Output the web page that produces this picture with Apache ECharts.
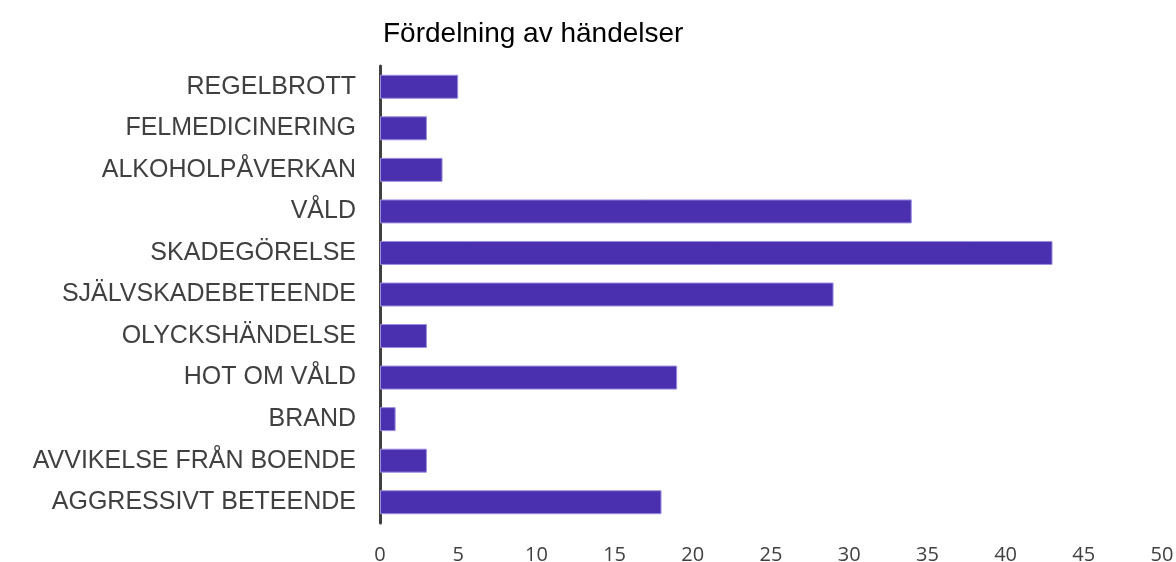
<!DOCTYPE html>
<html>
<head>
<meta charset="utf-8">
<script src="https://cdn.jsdelivr.net/npm/echarts@6/dist/echarts.min.js"></script>
<style>
  html, body { margin: 0; padding: 0; background: #fff; }
  #chart { width: 1176px; height: 562px; }
</style>
</head>
<body>
<div id="chart"></div>
<script>
// kategorier nerifrån och upp (som y-axeln ritar dem)
const categories = [
  'AGGRESSIVT BETEENDE',
  'AVVIKELSE FRÅN BOENDE',
  'BRAND',
  'HOT OM VÅLD',
  'OLYCKSHÄNDELSE',
  'SJÄLVSKADEBETEENDE',
  'SKADEGÖRELSE',
  'VÅLD',
  'ALKOHOLPÅVERKAN',
  'FELMEDICINERING',
  'REGELBROTT'
];
const counts = [18, 3, 1, 19, 3, 29, 43, 34, 4, 3, 5];
const xTicks = [0, 5, 10, 15, 20, 25, 30, 35, 40, 45, 50];

const chart = echarts.init(document.getElementById('chart'));

const option = {
  animation: false,
  title: {
    text: 'Fördelning av händelser',
    left: 378,
    top: 15,
    textStyle: {
      fontFamily: 'Liberation Sans',
      fontSize: 28,
      fontWeight: 'normal',
      color: '#000'
    }
  },
  grid: {
    left: 380,
    right: 14,
    top: 66,
    bottom: 39,
    containLabel: false,
    outerBoundsMode: 'none'
  },
  xAxis: {
    type: 'value',
    min: xTicks[0],
    max: xTicks[xTicks.length - 1],
    interval: 5,
    axisLine: { show: false },
    axisTick: { show: false },
    splitLine: { show: false },
    axisLabel: {
      margin: 22,
      color: '#404040',
      fontFamily: 'Open Sans',
      fontSize: 20
    }
  },
  yAxis: {
    type: 'category',
    data: categories,
    axisLine: { show: true, lineStyle: { color: '#404040', width: 3 } },
    axisTick: { show: false },
    axisLabel: {
      margin: 24,
      color: '#404040',
      fontFamily: 'Liberation Sans',
      fontSize: 25
    }
  },
  series: [
    {
      type: 'bar',
      data: counts,
      barWidth: 24,
      itemStyle: {
        color: '#4a30ae',
        borderColor: '#9d8ee0',
        borderWidth: 1
      }
    }
  ]
};

chart.setOption(option);
</script>
</body>
</html>
